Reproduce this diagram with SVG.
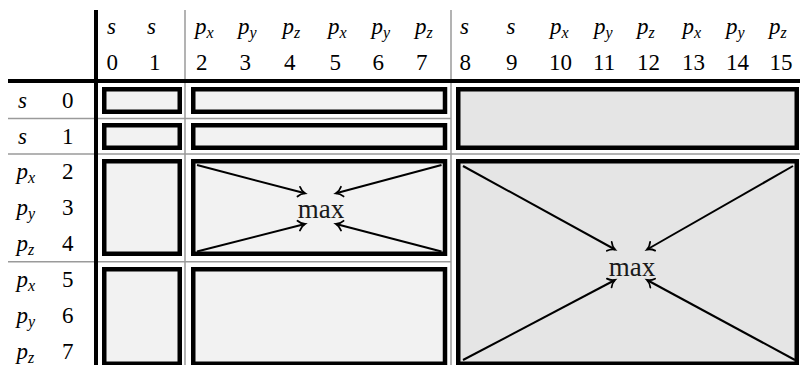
<svg xmlns="http://www.w3.org/2000/svg" width="800" height="365" viewBox="0 0 800 365" font-family="Liberation Serif, DejaVu Serif, serif">
<style>
  .t { font-family: "Liberation Serif", "DejaVu Serif", serif; font-size: 23px; fill: #000; }
  .i { font-style: italic; }
  .sub { font-size: 16px; font-style: italic; }
  .mx { font-family: "Liberation Serif", "DejaVu Serif", serif; font-size: 27px; fill: #1a1a1a; text-anchor: middle; }
  .grid { stroke: #9a9a9a; stroke-width: 1.5; fill: none; }
  .rule { stroke: #000; stroke-width: 4; fill: none; }
  .lt { fill: #f2f2f2; stroke: #000; stroke-width: 4.5; }
  .dk { fill: #e5e5e5; stroke: #000; stroke-width: 4.5; }
  .arr { stroke: #000; stroke-width: 2; fill: none; marker-end: url(#to); }
</style>
<defs>
  <marker id="to" markerUnits="userSpaceOnUse" markerWidth="14" markerHeight="14" viewBox="-8 -7 10 14" refX="0" refY="0" orient="auto">
    <path d="M -6.5,-5 C -4.5,-2 -1.8,-0.6 0,0 C -1.8,0.6 -4.5,2 -6.5,5" fill="none" stroke="#000" stroke-width="1.8" stroke-linecap="round"/>
  </marker>
</defs>
<rect width="800" height="365" fill="#fff"/>

<g id="grid">
  <line class="grid" x1="185" y1="10" x2="185" y2="365"/>
  <line class="grid" x1="451" y1="10" x2="451" y2="365"/>
  <line class="grid" x1="8" y1="118.5" x2="451" y2="118.5"/>
  <line class="grid" x1="8" y1="154" x2="800" y2="154"/>
  <line class="grid" x1="8" y1="261.7" x2="451" y2="261.7"/>
  <line class="rule" x1="96" y1="10" x2="96" y2="365"/>
  <line class="rule" x1="8" y1="81" x2="800" y2="81"/>
</g>

<g id="header">
  <text class="t i" x="107" y="34">s</text>
  <text class="t i" x="147" y="34">s</text>
  <text class="t" x="195" y="34"><tspan class="i">p</tspan><tspan class="sub" dy="4">x</tspan></text>
  <text class="t" x="238" y="34"><tspan class="i">p</tspan><tspan class="sub" dy="4">y</tspan></text>
  <text class="t" x="282.5" y="34"><tspan class="i">p</tspan><tspan class="sub" dy="4">z</tspan></text>
  <text class="t" x="328" y="34"><tspan class="i">p</tspan><tspan class="sub" dy="4">x</tspan></text>
  <text class="t" x="371.5" y="34"><tspan class="i">p</tspan><tspan class="sub" dy="4">y</tspan></text>
  <text class="t" x="415" y="34"><tspan class="i">p</tspan><tspan class="sub" dy="4">z</tspan></text>
  <text class="t i" x="460" y="34">s</text>
  <text class="t i" x="506.5" y="34">s</text>
  <text class="t" x="550" y="34"><tspan class="i">p</tspan><tspan class="sub" dy="4">x</tspan></text>
  <text class="t" x="594" y="34"><tspan class="i">p</tspan><tspan class="sub" dy="4">y</tspan></text>
  <text class="t" x="637" y="34"><tspan class="i">p</tspan><tspan class="sub" dy="4">z</tspan></text>
  <text class="t" x="682.5" y="34"><tspan class="i">p</tspan><tspan class="sub" dy="4">x</tspan></text>
  <text class="t" x="726" y="34"><tspan class="i">p</tspan><tspan class="sub" dy="4">y</tspan></text>
  <text class="t" x="769" y="34"><tspan class="i">p</tspan><tspan class="sub" dy="4">z</tspan></text>

  <text class="t" x="106.5" y="70">0</text>
  <text class="t" x="149" y="70">1</text>
  <text class="t" x="196" y="70">2</text>
  <text class="t" x="239.5" y="70">3</text>
  <text class="t" x="284" y="70">4</text>
  <text class="t" x="329.5" y="70">5</text>
  <text class="t" x="372.5" y="70">6</text>
  <text class="t" x="416" y="70">7</text>
  <text class="t" x="459.5" y="70">8</text>
  <text class="t" x="506" y="70">9</text>
  <text class="t" x="549" y="70">10</text>
  <text class="t" x="593" y="70">11</text>
  <text class="t" x="637" y="70">12</text>
  <text class="t" x="682" y="70">13</text>
  <text class="t" x="726" y="70">14</text>
  <text class="t" x="769.5" y="70">15</text>
</g>

<g id="row-labels">
  <text class="t i" x="18" y="108">s</text><text class="t" x="62" y="108">0</text>
  <text class="t i" x="18" y="143.5">s</text><text class="t" x="62" y="143.5">1</text>
  <text class="t" x="16.5" y="179"><tspan class="i">p</tspan><tspan class="sub" dy="4">x</tspan></text><text class="t" x="62" y="179">2</text>
  <text class="t" x="16.5" y="215"><tspan class="i">p</tspan><tspan class="sub" dy="4">y</tspan></text><text class="t" x="62" y="215">3</text>
  <text class="t" x="16.5" y="251"><tspan class="i">p</tspan><tspan class="sub" dy="4">z</tspan></text><text class="t" x="62" y="251">4</text>
  <text class="t" x="16.5" y="287"><tspan class="i">p</tspan><tspan class="sub" dy="4">x</tspan></text><text class="t" x="62" y="287">5</text>
  <text class="t" x="16.5" y="323"><tspan class="i">p</tspan><tspan class="sub" dy="4">y</tspan></text><text class="t" x="62" y="323">6</text>
  <text class="t" x="16.5" y="359"><tspan class="i">p</tspan><tspan class="sub" dy="4">z</tspan></text><text class="t" x="62" y="359">7</text>
</g>

<g id="cell-r0-c01"><rect class="lt" x="104.25" y="89.25" width="75.5" height="22.5"/></g>
<g id="cell-r0-c27"><rect class="lt" x="193.25" y="89.25" width="251.75" height="22.5"/></g>
<g id="cell-r1-c01"><rect class="lt" x="104.25" y="125.25" width="75.5" height="22.5"/></g>
<g id="cell-r1-c27"><rect class="lt" x="193.25" y="125.25" width="251.75" height="22.5"/></g>
<g id="cell-r01-c815"><rect class="dk" x="458.25" y="89.25" width="338.5" height="58.5"/></g>

<g id="cell-r24-c01"><rect class="lt" x="104.25" y="161.25" width="75.5" height="92.5"/></g>
<g id="cell-r24-c27"><rect class="lt" x="193.25" y="161.25" width="251.75" height="92.5"/>
  <text class="mx" x="321" y="218">max</text></g>
<g id="cell-r57-c01"><rect class="lt" x="104.25" y="269.25" width="75.5" height="94.5"/></g>
<g id="cell-r57-c27"><rect class="lt" x="193.25" y="269.25" width="251.75" height="94.5"/></g>
<g id="cell-r27-c815"><rect class="dk" x="458.25" y="161.25" width="338.5" height="202.5"/>
  <text class="mx" x="632" y="276">max</text></g>

<g id="connectors">
  <line class="arr" x1="197" y1="165" x2="305" y2="193.3"/>
  <line class="arr" x1="441.5" y1="165" x2="336" y2="193.3"/>
  <line class="arr" x1="197" y1="251.5" x2="305" y2="224"/>
  <line class="arr" x1="441.5" y1="251.5" x2="336" y2="224"/>
  <line class="arr" x1="463" y1="166" x2="615" y2="249.5"/>
  <line class="arr" x1="793" y1="166" x2="647" y2="249.5"/>
  <line class="arr" x1="463" y1="360" x2="615" y2="280"/>
  <line class="arr" x1="795" y1="360" x2="647" y2="280"/>
</g>
</svg>
